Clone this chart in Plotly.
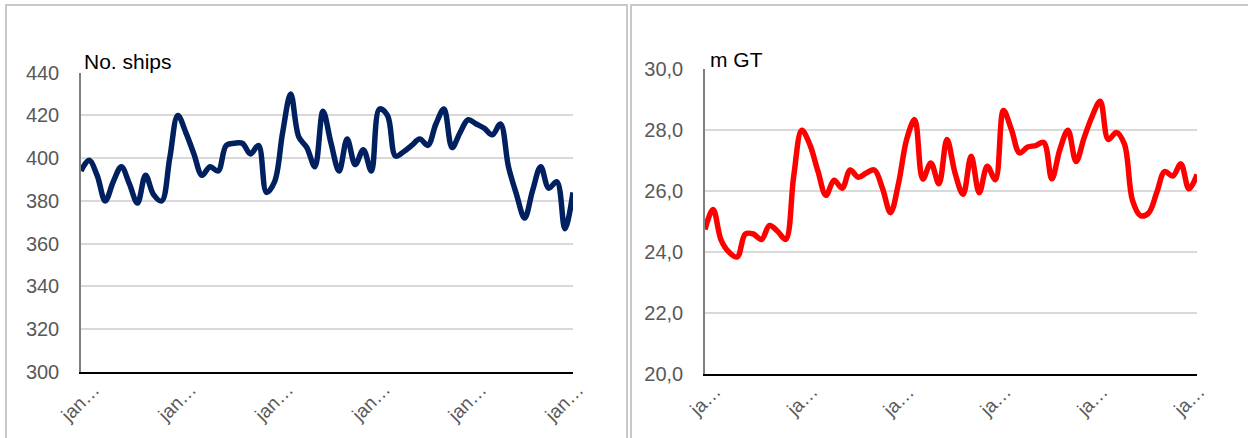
import plotly.graph_objects as go

# Monthly fleet figures, 62 months (January to February five years later)
months = list(range(62))
ships = [394, 399, 392, 380, 389, 396, 388, 379, 392, 383, 380, 400, 420, 412, 402, 392,
         396, 394, 406, 407, 407, 402, 406, 384, 389, 412, 430, 410, 405, 396, 422, 407,
         394, 409, 397, 404, 394, 423, 420, 401, 403, 406, 409, 406, 416, 423, 405, 412,
         418, 416, 414, 411, 416, 396, 383, 372, 385, 396, 386, 389, 367, 384]
gross_tonnage = [24.75, 25.4, 24.4, 24.0, 23.85, 24.6, 24.6, 24.42, 24.88, 24.69, 24.42,
                 26.5, 28.0, 27.53, 26.66, 25.87, 26.36, 26.1, 26.7, 26.46, 26.6, 26.7,
                 26.1, 25.3, 26.27, 27.7, 28.35, 26.4, 26.93, 26.25, 27.7, 26.6, 25.9,
                 27.15, 25.95, 26.82, 26.38, 28.65, 28.02, 27.26, 27.45, 27.5, 27.6, 26.41,
                 27.37, 28.0, 26.98, 27.75, 28.46, 28.95, 27.7, 27.93, 27.55, 25.7, 25.2,
                 25.29, 25.95, 26.65, 26.5, 26.9, 26.08, 26.55]

label_months = [0, 12, 24, 36, 48, 60]
left_tick_text = "jan…"
right_tick_text = "ja…"
ships_ticks = [300, 320, 340, 360, 380, 400, 420, 440]
gt_ticks = [20, 22, 24, 26, 28, 30]

W, H = 1248, 438
FONT = "Liberation Sans"
TICK_GRAY = "#595959"
GRID = "#d9d9d9"


def px(x):
    return x / W


def py(y):
    return 1 - y / H


fig = go.Figure()
fig.add_trace(go.Scatter(x=months, y=ships, mode="lines", xaxis="x", yaxis="y",
                         line=dict(color="#002060", width=5.5, shape="spline", smoothing=1.0),
                         showlegend=False, hoverinfo="skip"))
fig.add_trace(go.Scatter(x=months, y=gross_tonnage, mode="lines", xaxis="x2", yaxis="y2",
                         line=dict(color="#ff0000", width=5.5, shape="spline", smoothing=1.0),
                         showlegend=False, hoverinfo="skip"))

xcommon = dict(range=[0, len(months) - 1], showgrid=False, zeroline=False,
               showticklabels=False, ticks="", showline=True, linecolor="#000000",
               linewidth=1.5, fixedrange=True, automargin=False)
ycommon = dict(showgrid=True, gridcolor=GRID, gridwidth=1.5, zeroline=False,
               showline=True, linecolor="#7f7f7f", linewidth=1.5, ticks="",
               ticklabelstandoff=16, tickfont=dict(family=FONT, size=20, color=TICK_GRAY),
               fixedrange=True, automargin=False)

fig.update_layout(
    width=W, height=H, autosize=False,
    margin=dict(l=0, r=0, t=0, b=0, pad=0, autoexpand=False),
    paper_bgcolor="white", plot_bgcolor="white",
    separators=", ",
    font=dict(family=FONT),
    xaxis=dict(domain=[px(81), px(573)], anchor="y", **xcommon),
    yaxis=dict(domain=[py(372), py(72.7)], anchor="x", range=[300, 440],
               tickvals=ships_ticks, **ycommon),
    xaxis2=dict(domain=[px(705), px(1197)], anchor="y2", **xcommon),
    yaxis2=dict(domain=[py(374.3), py(69.3)], anchor="x2", range=[20, 30],
                tickvals=gt_ticks, tickformat=".1f", **ycommon),
)

# Panel frames
fig.add_shape(type="rect", xref="paper", yref="paper", x0=px(6), x1=px(627),
              y0=py(460), y1=py(5), line=dict(color="#c8c8c8", width=2))
fig.add_shape(type="rect", xref="paper", yref="paper", x0=px(631), x1=px(1262),
              y0=py(460), y1=py(5), line=dict(color="#c8c8c8", width=2))

# Unit titles above each value axis
fig.add_annotation(text="No. ships", xref="paper", yref="paper", x=px(82), y=py(75),
                   xanchor="left", yanchor="bottom", showarrow=False,
                   font=dict(family=FONT, size=21, color="#000000"))
fig.add_annotation(text="m GT", xref="paper", yref="paper", x=px(708), y=py(73),
                   xanchor="left", yanchor="bottom", showarrow=False,
                   font=dict(family=FONT, size=21, color="#000000"))

# Rotated month labels on the category axes
for m in label_months:
    fig.add_annotation(text=left_tick_text, xref="x", yref="paper", x=m, y=py(372),
                       xanchor="right", yanchor="top", textangle=-45, showarrow=False,
                       xshift=25, yshift=-4,
                       font=dict(family=FONT, size=19, color=TICK_GRAY))
    fig.add_annotation(text=right_tick_text, xref="x2", yref="paper", x=m, y=py(374.3),
                       xanchor="right", yanchor="top", textangle=-45, showarrow=False,
                       xshift=23, yshift=-4,
                       font=dict(family=FONT, size=19, color=TICK_GRAY))

fig.write_html("out.html")
